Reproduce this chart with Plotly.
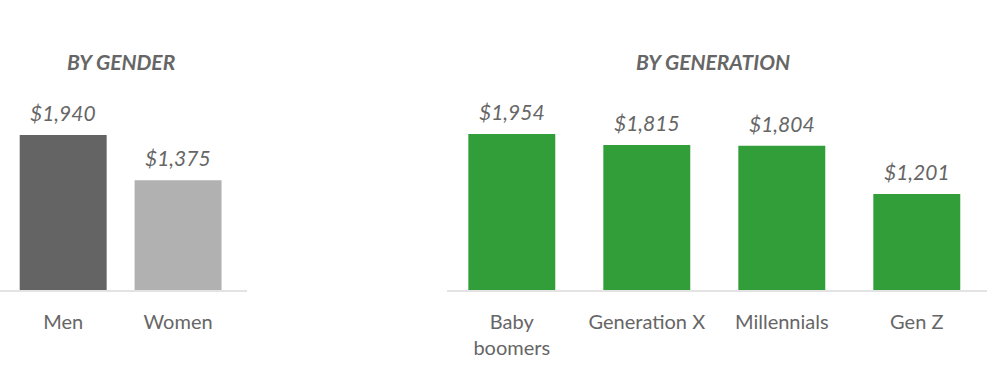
import plotly.graph_objects as go

gender_cats = ["Men", "Women"]
gender_vals = [1940, 1375]
gender_labels = ["$1,940", "$1,375"]

gen_cats = ["Baby<br>boomers", "Generation X", "Millennials", "Gen Z"]
gen_vals = [1954, 1815, 1804, 1201]
gen_labels = ["$1,954", "$1,815", "$1,804", "$1,201"]

FONT = "Lato"
TXT = "#666666"

fig = go.Figure()
fig.add_trace(go.Bar(x=gender_cats, y=gender_vals, xaxis="x", yaxis="y",
                     marker=dict(color=["#646464", "#b1b1b1"], line=dict(width=0)),
                     width=0.757, hoverinfo="skip"))
fig.add_trace(go.Bar(x=gen_cats, y=gen_vals, xaxis="x2", yaxis="y2",
                     marker=dict(color="#319e3a", line=dict(width=0)),
                     width=0.644, hoverinfo="skip"))

annotations = []
for c, v, t in zip(gender_cats, gender_vals, gender_labels):
    annotations.append(dict(x=c, y=v, xref="x", yref="y", text=t, showarrow=False,
                            yanchor="bottom", yshift=8,
                            font=dict(family=FONT, size=21, color=TXT, style="italic")))
for c, v, t in zip(gen_cats, gen_vals, gen_labels):
    annotations.append(dict(x=c, y=v, xref="x2", yref="y2", text=t, showarrow=False,
                            yanchor="bottom", yshift=8,
                            font=dict(family=FONT, size=21, color=TXT, style="italic")))
annotations.append(dict(x=121 / 987, y=1 - 62 / 368, xref="paper", yref="paper",
                        text="<b><i>BY GENDER</i></b>", showarrow=False,
                        xanchor="center", yanchor="middle",
                        font=dict(family=FONT, size=21, color=TXT)))
annotations.append(dict(x=713 / 987, y=1 - 62 / 368, xref="paper", yref="paper",
                        text="<b><i>BY GENERATION</i></b>", showarrow=False,
                        xanchor="center", yanchor="middle",
                        font=dict(family=FONT, size=21, color=TXT)))

ydom = [(368 - 290) / 368, (368 - 290 + 3000 * 0.0799) / 368]
axis_common = dict(showgrid=False, zeroline=False, showline=True, linecolor="#e3e3e3",
                   linewidth=1.5, ticks="outside", ticklen=13, tickcolor="rgba(0,0,0,0)",
                   tickfont=dict(family=FONT, size=20, color=TXT), fixedrange=True,
                   automargin=False)

fig.update_layout(
    width=987, height=368,
    margin=dict(l=0, r=0, t=0, b=0),
    paper_bgcolor="white", plot_bgcolor="white",
    showlegend=False,
    xaxis=dict(domain=[0, 247 / 987], range=[-0.55, 1.6], anchor="y", **axis_common),
    xaxis2=dict(domain=[447 / 987, 1.0], range=[-0.48, 3.52], anchor="y2", **axis_common),
    yaxis=dict(domain=ydom, range=[0, 3000], visible=False, fixedrange=True, automargin=False),
    yaxis2=dict(domain=ydom, range=[0, 3000], visible=False, fixedrange=True, automargin=False),
    annotations=annotations,
)

fig.write_html("out.html", config={"displayModeBar": False},
               post_script="document.body.style.margin='0';document.body.style.padding='0';")
